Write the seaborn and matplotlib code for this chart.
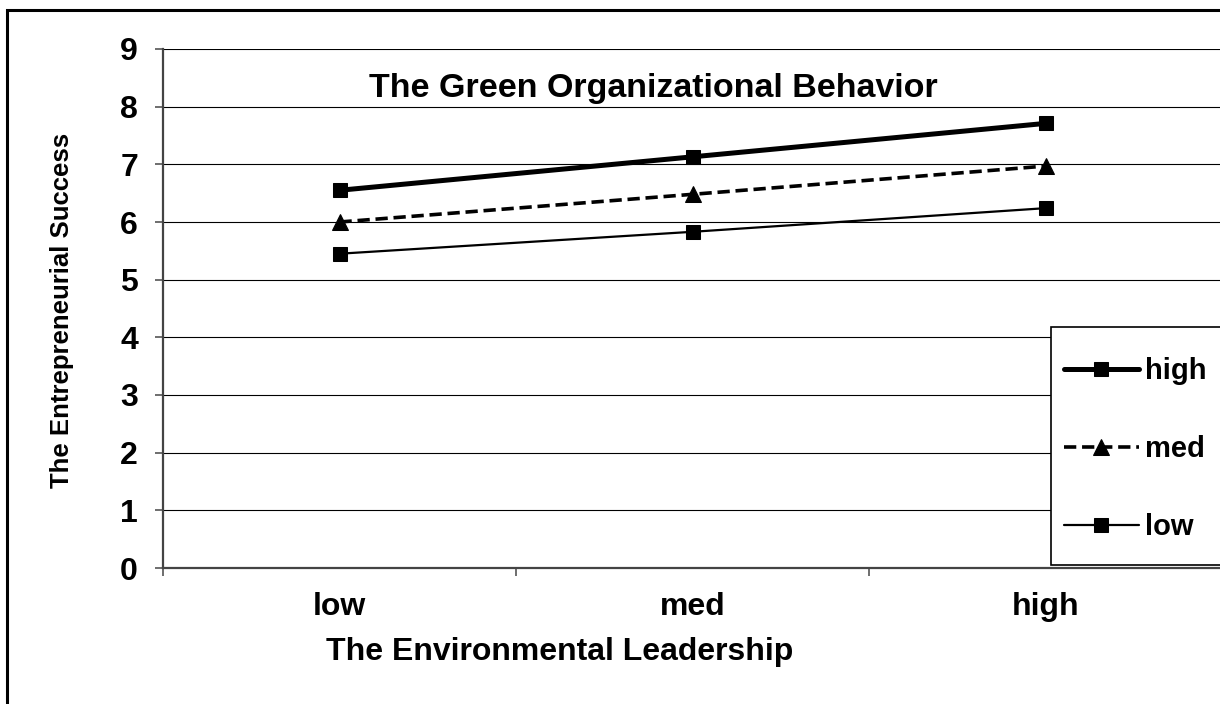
import pandas as pd
import matplotlib.pyplot as plt
import seaborn as sns

# categories on the x axis and the three moderator levels
leadership = ["low", "med", "high"]
behavior_levels = ["high", "med", "low"]

success_high = [6.55, 7.13, 7.71]
success_med = [6.00, 6.48, 6.97]
success_low = [5.45, 5.83, 6.24]

df = pd.DataFrame({
    "Leadership": leadership * 3,
    "Behavior": ["high"] * 3 + ["med"] * 3 + ["low"] * 3,
    "Success": success_high + success_med + success_low,
})

sns.set_style("white", {"text.color": "black", "axes.labelcolor": "black",
                        "xtick.color": "black", "ytick.color": "black"})
plt.rcParams["font.family"] = ["Liberation Sans", "DejaVu Sans"]
plt.rcParams["font.weight"] = "bold"

fig = plt.figure(figsize=(12.2, 7.04), dpi=100)
ax = fig.add_axes([163 / 1220, 1 - 568 / 704, 1059 / 1220, 519 / 704])

# style of each line: width, dashes, marker
line_styles = {
    "high": dict(linewidth=3.6, linestyle="-", marker="s", markersize=10),
    "med": dict(linewidth=2.6, linestyle=(0, (3.4, 1.6)), marker="^", markersize=11),
    "low": dict(linewidth=1.6, linestyle="-", marker="s", markersize=10),
}

for level in behavior_levels:
    sub = df[df["Behavior"] == level]
    sns.lineplot(data=sub, x="Leadership", y="Success", ax=ax, color="black",
                 markeredgecolor="black", markerfacecolor="black",
                 label=level, **line_styles[level])

ax.set_ylim(0, 9)
ax.set_xlim(-0.5, 2.5)
ax.set_yticks(range(0, 10))
ax.set_xticks([0, 1, 2])
ax.set_xticklabels(leadership)
ax.set_xticks([-0.5, 0.5, 1.5, 2.5], minor=True)

ax.tick_params(axis="x", which="major", length=0, pad=17, labelsize=23,
               labelcolor="black")
ax.tick_params(axis="x", which="minor", length=6, width=1.2, direction="out",
               color="#555555", bottom=True)
ax.tick_params(axis="y", length=6, width=1.2, direction="out", color="#555555",
               pad=12, labelsize=23, left=True, labelcolor="black")

ax.grid(axis="y", color="black", linewidth=0.8)
ax.grid(axis="x", visible=False)
ax.set_axisbelow(True)

for side in ["top", "right"]:
    ax.spines[side].set_visible(False)
for side in ["left", "bottom"]:
    ax.spines[side].set_color("#444444")
    ax.spines[side].set_linewidth(1.6)

ax.set_xlabel("The Environmental Leadership", fontsize=23, fontweight="bold",
              color="black")
ax.set_ylabel("The Entrepreneurial Success", fontsize=18.5, fontweight="bold",
              color="black")
ax.xaxis.label.set_va("center")
ax.yaxis.label.set_va("center")
ax.xaxis.set_label_coords((560 - 163) / 1059, (568 - 652) / 519)
ax.yaxis.set_label_coords((62 - 163) / 1059, (568 - 310) / 519)

ax.text((653 - 163) / 1059, (568 - 88) / 519, "The Green Organizational Behavior",
        transform=ax.transAxes, ha="center", va="center", fontsize=24.5,
        fontweight="bold", color="black")

# legend box (white, hides the gridlines behind it, cut off at the right)
ax.add_patch(plt.Rectangle((1051 / 1220, 1 - 565 / 704), 0.5, (565 - 327) / 704,
                           facecolor="white", edgecolor="black", linewidth=1.2,
                           transform=fig.transFigure, clip_on=False, zorder=4.9))

leg = ax.legend(loc="center left", bbox_to_anchor=(1051 / 1220, 1 - 449 / 704),
                bbox_transform=fig.transFigure, borderaxespad=0, frameon=False,
                fontsize=21, handlelength=2.55, handletextpad=0.22,
                labelspacing=1.72, borderpad=0.45)
for t in leg.get_texts():
    t.set_fontweight("bold")
    t.set_color("black")

# outer chart border (cut off at right and bottom)
fig.add_artist(plt.Rectangle((7 / 1220, -0.5), 2, 0.5 + 1 - 10 / 704, fill=False,
                             edgecolor="black", linewidth=2.2,
                             transform=fig.transFigure))

fig.savefig("out.png", dpi=100)
